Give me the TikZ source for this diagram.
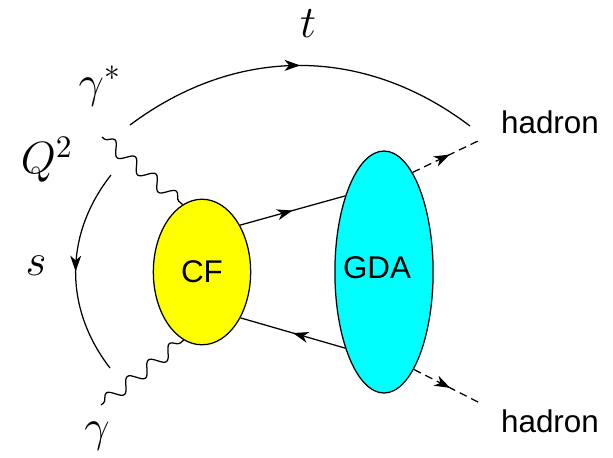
\documentclass[tikz,border=0pt]{standalone}
\usepackage{fontspec}
\setsansfont{Liberation Sans}
\usetikzlibrary{arrows.meta,decorations.pathmorphing,decorations.markings,shapes.geometric}
\definecolor{cfyellow}{RGB}{255,255,0}
\definecolor{gdacyan}{RGB}{0,255,255}
\tikzset{
  blob/.style={ellipse,draw,line width=0.4pt,inner sep=0pt,font=\sffamily},
  photon/.style={decorate,decoration={snake,segment length=0.3cm,amplitude=0.07cm,pre length=1pt,post length=1pt},line width=0.4pt},
  midarrow/.style={postaction={decorate,decoration={markings,
    mark=at position #1 with {\arrow{Stealth[length=5pt,width=3.5pt,inset=1.5pt]}}}}},
  midarrow/.default=0.5,
  quark/.style={line width=0.4pt,midarrow},
  hadline/.style={line width=0.4pt,dash pattern=on 2.5pt off 1.6pt,midarrow=0.55},
  kin/.style={line width=0.4pt,midarrow},
  lbl/.style={font=\Large},
  had/.style={font=\sffamily},
}
\begin{document}
\begin{tikzpicture}[x=0.0112cm,y=-0.0112cm]
  \useasboundingbox (0,0) rectangle (613,457);
  % blobs
  \node[blob,fill=cfyellow,minimum width=1.09cm,minimum height=1.63cm] (cf) at (202,272) {CF};
  \node[blob,fill=gdacyan,minimum width=1.10cm,minimum height=2.71cm] (gda) at (384,272) {};
  \node[font=\sffamily] (gdatxt) at (377,268) {GDA};
  % labels
  \node[lbl] (lt) at (308,24) {$t$};
  \node[lbl] (lgs) at (100,86) {$\gamma^*$};
  \node[lbl] (lq) at (47,160) {$Q^2$};
  \node[lbl] (ls) at (36,266) {$s$};
  \node[lbl] (lg) at (97,436) {$\gamma$};
  \node[had] (h1) at (550,122) {hadron};
  \node[had] (h2) at (550,421) {hadron};
  % free ends
  \coordinate (gs) at (102,137);
  \coordinate (gb) at (101,405);
  \coordinate (e1) at (480,140);
  \coordinate (e2) at (480,403);
  \coordinate (tA) at (130,125);
  \coordinate (tB) at (470,126);
  \coordinate (sA) at (111,175);
  \coordinate (sB) at (110,368);
  % photons
  \draw[photon] (gs) -- (cf.106);
  \draw[photon] (gb) -- (cf.-105);
  % quark lines
  \draw[quark] (cf.51) -- (gda.117);
  \draw[quark] (gda.-117) -- (cf.-50);
  % outgoing hadrons
  \draw[hadline] (gda.74) -- (e1);
  \draw[hadline] (gda.-73) -- (e2);
  % kinematics
  \draw[kin] (tA) to[bend left=37] (tB);
  \draw[kin] (sA) to[bend right=38] (sB);
\end{tikzpicture}
\end{document}
